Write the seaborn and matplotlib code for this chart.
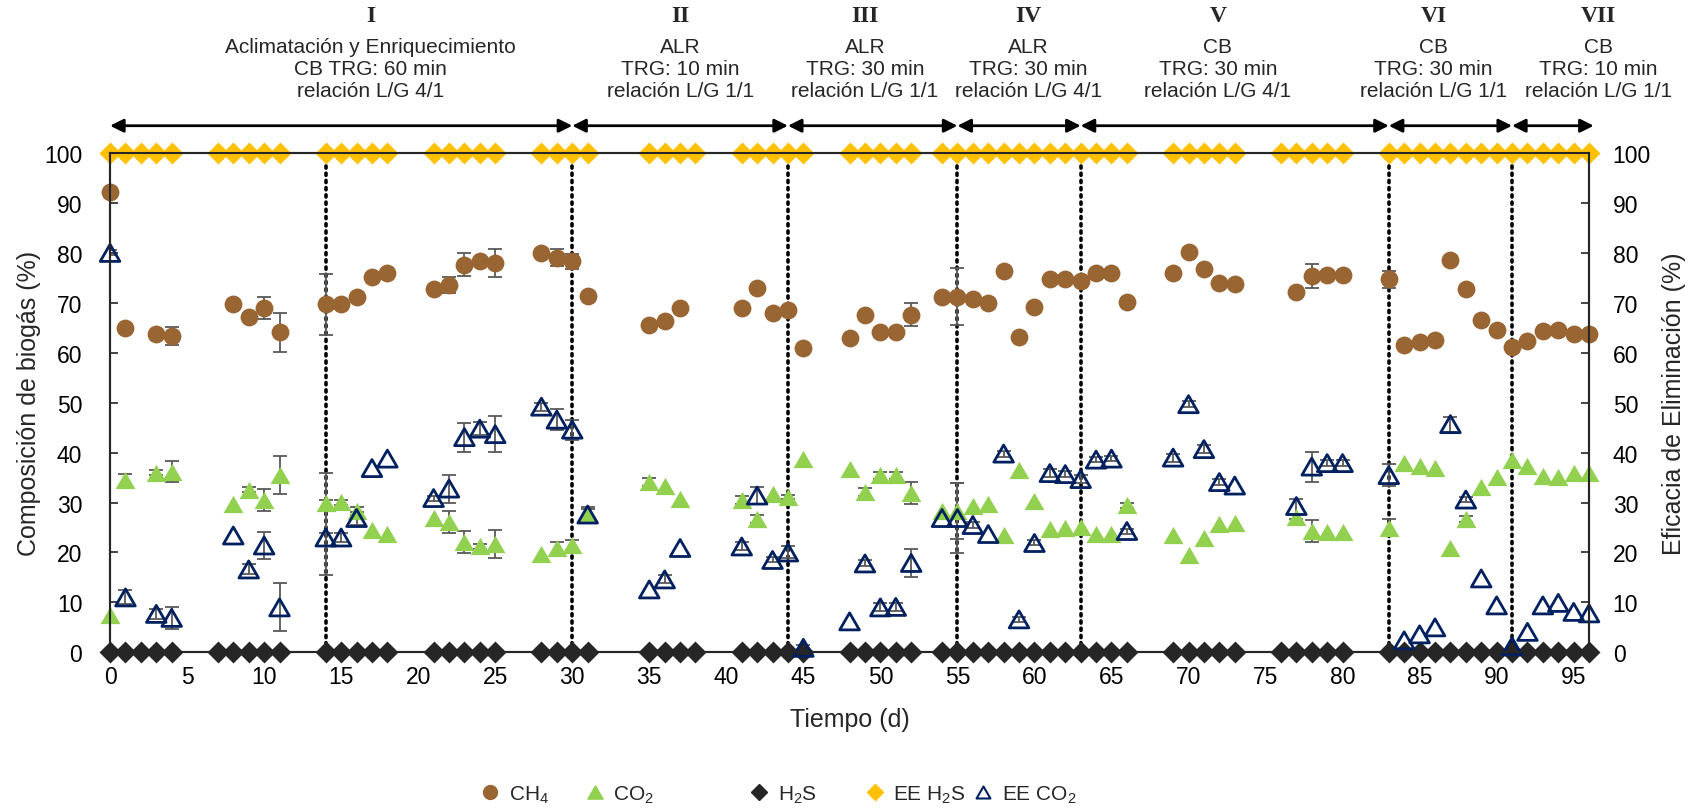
import numpy as np
import matplotlib
matplotlib.use("Agg")
import matplotlib.pyplot as plt
from matplotlib import font_manager
from matplotlib.lines import Line2D
from matplotlib.path import Path
import seaborn as sns

# ---------------- data ----------------
# sampling days for the gas composition series
days_gas = [0, 1, 3, 4, 8, 9, 10, 11, 14, 15, 16, 17, 18, 21, 22, 23, 24, 25,
            28, 29, 30, 31, 35, 36, 37, 41, 42, 43, 44, 45, 48, 49, 50, 51, 52,
            54, 55, 56, 57, 58, 59, 60, 61, 62, 63, 64, 65, 66, 69, 70, 71, 72,
            73, 77, 78, 79, 80, 83, 84, 85, 86, 87, 88, 89, 90, 91, 92, 93, 94,
            95, 96]

ch4 = [92.2, 65.0, 63.7, 63.4, 69.8, 67.2, 69.0, 64.1, 69.7, 69.7, 71.2, 75.2,
       76.0, 72.8, 73.5, 77.6, 78.3, 77.9, 80.0, 79.0, 78.3, 71.4, 65.6, 66.4,
       69.0, 69.0, 73.0, 67.9, 68.5, 61.0, 63.0, 67.6, 64.1, 64.1, 67.6, 71.2,
       71.2, 70.7, 70.0, 76.3, 63.1, 69.2, 74.7, 74.7, 74.3, 75.9, 75.9, 70.1,
       76.0, 80.2, 76.7, 74.0, 73.8, 72.2, 75.3, 75.5, 75.5, 74.7, 61.6, 62.1,
       62.6, 78.6, 72.7, 66.5, 64.5, 61.2, 62.3, 64.3, 64.6, 63.8, 63.7]

co2 = [7.4, 34.6, 36.0, 36.2, 29.8, 32.6, 30.5, 35.5, 30.0, 30.1, 28.4, 24.5,
       23.8, 26.9, 26.2, 22.1, 21.2, 21.7, 19.7, 20.8, 21.4, 27.7, 34.1, 33.3,
       30.7, 30.6, 26.7, 31.7, 31.2, 38.8, 36.7, 32.1, 35.5, 35.5, 31.9, 28.3,
       28.3, 29.3, 29.7, 23.6, 36.6, 30.3, 24.8, 25.0, 25.2, 23.8, 23.8, 29.5,
       23.6, 19.4, 22.9, 25.7, 26.0, 27.2, 24.3, 24.1, 24.1, 25.0, 38.0, 37.4,
       36.9, 20.9, 26.8, 33.1, 35.2, 38.5, 37.4, 35.3, 35.2, 35.9, 36.0]

ee_co2 = [80.0, 11.0, 7.7, 6.9, 23.4, 16.6, 21.4, 9.0, 23.0, 23.0, 26.9, 36.9,
          38.8, 30.9, 32.8, 43.1, 44.8, 43.7, 49.2, 46.6, 44.6, 27.6, 12.6, 14.6,
          20.9, 21.2, 31.4, 18.5, 20.0, 0.9, 6.2, 17.8, 9.0, 9.1, 17.9, 26.9,
          26.9, 25.5, 23.7, 39.8, 6.6, 21.9, 35.9, 35.7, 34.7, 38.6, 38.8, 24.3,
          39.0, 49.7, 40.7, 34.1, 33.4, 29.3, 37.2, 37.9, 37.9, 35.5, 2.4, 3.6,
          5.0, 45.7, 30.6, 14.8, 9.4, 1.2, 4.1, 9.4, 9.9, 8.1, 7.8]

# standard deviations (0 = no bar)
ch4_err = [0, 0, 0.5, 1.8, 0, 0, 2.2, 3.9, 6.1, 0, 0.5, 0, 0, 0, 1.6, 2.3, 0.5,
           2.8, 0, 1.7, 1.5, 0, 0, 0, 0, 0, 0, 0, 0, 0, 0, 0, 0, 0, 2.3, 0, 5.7,
           0, 0, 0, 0, 0, 0, 0, 0, 0, 0, 0, 0, 0, 0, 0, 0, 0, 2.4, 0, 0, 1.7, 0,
           0, 0, 0, 0, 0, 0, 0, 0, 0, 0, 0, 0]

co2_err = [0, 1.2, 0.5, 2.1, 0, 0.5, 2.2, 3.8, 6.0, 0.5, 0.8, 0, 0, 0, 2.2, 2.2,
           0.5, 2.9, 0, 1.2, 1.0, 1.5, 0.8, 0, 0, 0.8, 0.8, 0, 0.4, 0, 0, 0.8,
           0.7, 0.7, 2.2, 0, 5.7, 0, 0, 0, 0, 0, 0, 0, 0, 0, 0, 0.5, 0, 0, 0, 0,
           0, 0.5, 2.3, 0, 0, 1.7, 0, 0, 0, 0, 0.6, 0, 0, 0, 0, 0, 0, 0, 0]

ee_co2_err = [0.5, 1.4, 1.0, 2.2, 0, 1.0, 2.8, 4.8, 7.5, 1.0, 1.3, 0, 0, 0.5,
              2.8, 2.9, 1.3, 3.6, 0.8, 2.1, 2.0, 1.2, 0, 0.8, 0, 0.8, 1.7, 0.5,
              1.2, 0.5, 0, 0.6, 0.8, 0.8, 2.8, 0, 7.0, 0.6, 0, 0.6, 0.5, 0.5,
              0.8, 0.6, 0.8, 0.5, 0.5, 0.5, 0.8, 0.6, 0.8, 0.6, 0, 1.5, 3.0, 0.6,
              0.6, 2.2, 0, 0, 0, 1.5, 0.5, 0, 0, 0, 0, 0, 0, 0, 0]

# sampling days for H2S and its removal efficiency
days_h2s = [0, 1, 2, 3, 4, 7, 8, 9, 10, 11, 14, 15, 16, 17, 18, 21, 22, 23, 24,
            25, 28, 29, 30, 31, 35, 36, 37, 38, 41, 42, 43, 44, 45, 48, 49, 50,
            51, 52, 54, 55, 56, 57, 58, 59, 60, 61, 62, 63, 64, 65, 66, 69, 70,
            71, 72, 73, 76, 77, 78, 79, 80, 83, 84, 85, 86, 87, 88, 89, 90, 91,
            92, 93, 94, 95, 96]

h2s = [0, 0, 0, 0, 0, 0, 0, 0, 0, 0, 0, 0, 0, 0, 0, 0, 0, 0, 0, 0, 0, 0, 0, 0,
       0, 0, 0, 0, 0, 0, 0, 0, 0, 0, 0, 0, 0, 0, 0, 0, 0, 0, 0, 0, 0, 0, 0, 0,
       0, 0, 0, 0, 0, 0, 0, 0, 0, 0, 0, 0, 0, 0, 0, 0, 0, 0, 0, 0, 0, 0, 0, 0,
       0, 0, 0]

ee_h2s = [100, 100, 100, 100, 100, 100, 100, 100, 100, 100, 100, 100, 100, 100,
          100, 100, 100, 100, 100, 100, 100, 100, 100, 100, 100, 100, 100, 100,
          100, 100, 100, 100, 100, 100, 100, 100, 100, 100, 100, 100, 100, 100,
          100, 100, 100, 100, 100, 100, 100, 100, 100, 100, 100, 100, 100, 100,
          100, 100, 100, 100, 100, 100, 100, 100, 100, 100, 100, 100, 100, 100,
          100, 100, 100, 100, 100]

# operating stages
stage_bounds = [0, 30, 44, 55, 63, 83, 91, 96.3]
change_days = [14, 30, 44, 55, 63, 83, 91]
stage_names = ["I", "II", "III", "IV", "V", "VI", "VII"]
stage_text = [
    ["Aclimatación y Enriquecimiento", "CB TRG: 60 min", "relación L/G 4/1"],
    ["ALR", "TRG: 10 min", "relación L/G 1/1"],
    ["ALR", "TRG: 30 min", "relación L/G 1/1"],
    ["ALR", "TRG: 30 min", "relación L/G 4/1"],
    ["CB", "TRG: 30 min", "relación L/G 4/1"],
    ["CB", "TRG: 30 min", "relación L/G 1/1"],
    ["CB", "TRG: 10 min", "relación L/G 1/1"],
]
stage_label_x = [16.9, 37.0, 49.0, 59.6, 71.9, 85.9, 96.6]

x_ticks = [0, 5, 10, 15, 20, 25, 30, 35, 40, 45, 50, 55, 60, 65, 70, 75, 80, 85, 90, 95]
y_ticks = [0, 10, 20, 30, 40, 50, 60, 70, 80, 90, 100]

series_labels = ["CH$_4$", "CO$_2$", "H$_2$S", "EE H$_2$S", "EE CO$_2$"]

# ---------------- style ----------------
sns.set_theme(style="white")
plt.rcParams["font.family"] = ["Liberation Sans", "DejaVu Sans"]
plt.rcParams["mathtext.fontset"] = "custom"
plt.rcParams["mathtext.rm"] = "Liberation Sans"
plt.rcParams["mathtext.it"] = "Liberation Sans:italic"
plt.rcParams["mathtext.bf"] = "Liberation Sans:bold"
plt.rcParams["mathtext.default"] = "rm"

available = {f.name for f in font_manager.fontManager.ttflist}
narrow = "Liberation Sans Narrow" if "Liberation Sans Narrow" in available else "Liberation Sans"

c_ch4 = "#996633"
c_co2 = "#92D050"
c_h2s = "#262626"
c_eeh2s = "#FFC000"
c_eeco2 = "#002060"
c_err = "#595959"
c_axis = "#262626"

tri = Path([(-1, -0.866), (1, -0.866), (0, 0.866), (-1, -0.866)],
           [Path.MOVETO, Path.LINETO, Path.LINETO, Path.CLOSEPOLY])

fig = plt.figure(figsize=(17.01, 8.12), dpi=100)
ax = fig.add_axes([0.0647, 0.1954, 0.8695, 0.6149])
ax.set_xlim(0, 96)
ax.set_ylim(0, 100)

# stage change markers
for d in change_days:
    ax.plot([d, d], [0, 100], color="black", linestyle=(0, (0.6, 1.4)),
            linewidth=2.6, dash_capstyle="round", zorder=1.5)

# error bars
def draw_err(x, y, e):
    x = np.asarray(x, float)
    y = np.asarray(y, float)
    e = np.asarray(e, float)
    m = e > 0
    ax.errorbar(x[m], y[m], yerr=e[m], fmt="none", ecolor=c_err,
                elinewidth=1.3, capsize=5, capthick=1.3, zorder=2)

draw_err(days_gas, ch4, ch4_err)
draw_err(days_gas, co2, co2_err)
draw_err(days_gas, ee_co2, ee_co2_err)

# markers
sns.scatterplot(x=days_gas, y=ch4, ax=ax, marker="o", s=165, color=c_ch4,
                edgecolor=c_ch4, linewidth=0, zorder=4, clip_on=False, legend=False)
sns.scatterplot(x=days_gas, y=co2, ax=ax, marker=tri, s=205, color=c_co2,
                edgecolor=c_co2, linewidth=0, zorder=4, clip_on=False, legend=False)
sns.scatterplot(x=days_h2s, y=h2s, ax=ax, marker="D", s=125, color=c_h2s,
                edgecolor=c_h2s, linewidth=0, zorder=5, clip_on=False, legend=False)
sns.scatterplot(x=days_h2s, y=ee_h2s, ax=ax, marker="D", s=125, color=c_eeh2s,
                edgecolor=c_eeh2s, linewidth=0, zorder=5, clip_on=False, legend=False)
sns.scatterplot(x=days_gas, y=ee_co2, ax=ax, marker=tri, s=200, color=c_eeco2,
                facecolor="none", edgecolor=c_eeco2, linewidth=2.0, zorder=6,
                clip_on=False, legend=False)

# axes styling
for side in ["left", "right", "top", "bottom"]:
    ax.spines[side].set_visible(True)
    ax.spines[side].set_color(c_axis)
    ax.spines[side].set_linewidth(1.5)
ax.set_xticks(x_ticks)
ax.set_yticks(y_ticks)
ax.tick_params(axis="both", direction="in", length=6, width=1.2, color=c_axis,
               labelsize=16.5, labelcolor="black")
ax.tick_params(axis="y", pad=20)
ax.tick_params(axis="x", pad=9)
ax.set_xlabel("Tiempo (d)", fontsize=18, labelpad=14)
ax.set_ylabel("Composición de biogás (%)", fontsize=18, labelpad=2)

ax2 = ax.twinx()
ax2.set_ylim(0, 100)
ax2.set_yticks(y_ticks)
ax2.tick_params(axis="y", direction="in", length=6, width=1.2, color=c_axis,
                labelsize=16.5, pad=17, labelcolor="black")
ax2.set_ylabel("Eficacia de Eliminación (%)", fontsize=18, labelpad=8)
for side in ["left", "right", "top", "bottom"]:
    ax2.spines[side].set_color(c_axis)
    ax2.spines[side].set_linewidth(1.5)
ax2.grid(False)
ax.grid(False)

# stage arrows and labels above the plot
trans = ax.get_xaxis_transform()
arrow_y = 1.0547
for a, b in zip(stage_bounds[:-1], stage_bounds[1:]):
    ax.annotate("", xy=(b, arrow_y), xytext=(a, arrow_y), xycoords=trans,
                textcoords=trans, annotation_clip=False,
                arrowprops=dict(arrowstyle="<|-|>", color="black", lw=2,
                                shrinkA=0, shrinkB=0, mutation_scale=20))

line_y = [1.2129, 1.1694, 1.1260]
for name, lines, xc in zip(stage_names, stage_text, stage_label_x):
    ax.text(xc, 1.2758, name, transform=trans, ha="center", va="center",
            fontsize=17, fontweight="bold", family=["Liberation Serif", "DejaVu Serif"],
            clip_on=False)
    for yy, txt in zip(line_y, lines):
        ax.text(xc, yy, txt, transform=trans, ha="center", va="center",
                fontsize=15, family=[narrow, "DejaVu Sans"], clip_on=False)

# legend below the plot
handles = [
    Line2D([], [], marker="o", ls="none", color=c_ch4, markersize=10),
    Line2D([], [], marker=tri, ls="none", color=c_co2, markersize=11),
    Line2D([], [], marker="D", ls="none", color=c_h2s, markersize=8),
    Line2D([], [], marker="D", ls="none", color=c_eeh2s, markersize=8),
    Line2D([], [], marker=tri, ls="none", markerfacecolor="none",
           markeredgecolor=c_eeco2, markeredgewidth=1.5, markersize=10),
]
legend_x = [0.2821, 0.3434, 0.4403, 0.5080, 0.5720]
for h, lab, lx in zip(handles, series_labels, legend_x):
    fig.legend(handles=[h], labels=[lab], loc="center left",
               bbox_to_anchor=(lx, 0.021), frameon=False, fontsize=15,
               handlelength=1.0, handletextpad=0.4, borderpad=0,
               borderaxespad=0)

fig.savefig("out.png", dpi=100, facecolor="white")
